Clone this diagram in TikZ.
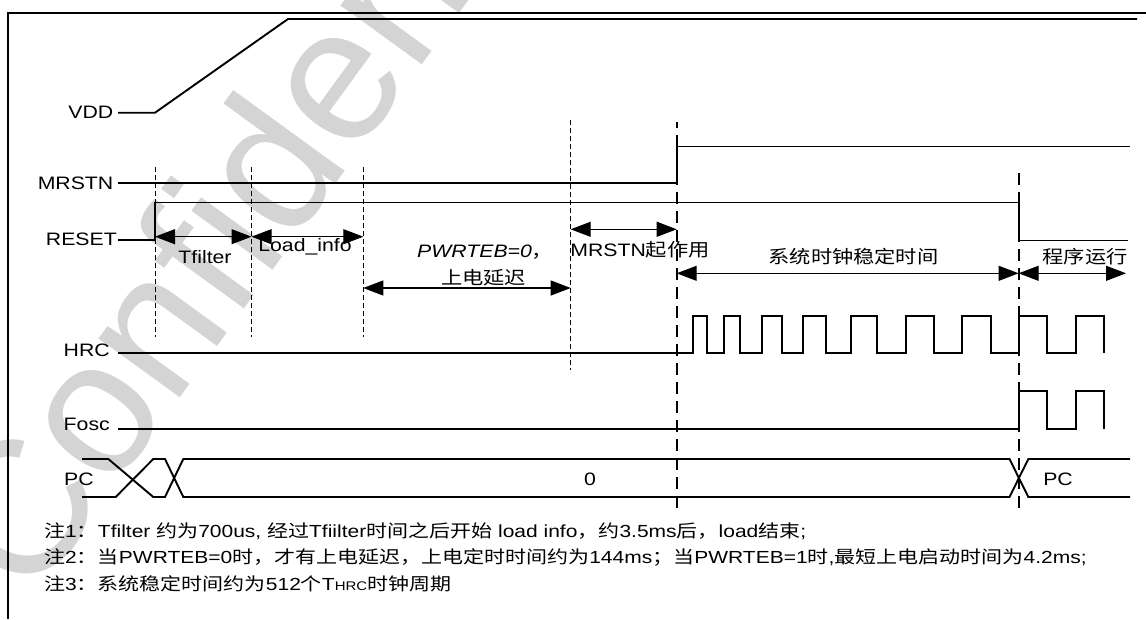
\documentclass[tikz,border=0pt]{standalone}
\usepackage{fontspec}
\setmainfont{Liberation Sans}
\newfontfamily\cjk{Noto Sans CJK SC}
\usetikzlibrary{arrows.meta}
\begin{document}
\begin{tikzpicture}[x=1pt,y=-1pt,
  sig/.style={line width=1.9pt, line join=miter},
  tdash/.style={line width=0.8pt, dash pattern=on 5pt off 3pt},
  bdash/.style={line width=1.9pt, dash pattern=on 12pt off 7pt},
  dim/.style={line width=1.1pt, {Triangle[length=20pt,width=15pt]}-{Triangle[length=20pt,width=15pt]}},
  lbl/.style={font=\fontsize{18}{20}\selectfont, xscale=1.18, inner sep=0pt},
  note/.style={font=\fontsize{17.5}{20}\selectfont, xscale=1.2, inner sep=0pt, anchor=base west},
  wm/.style={font=\fontsize{190}{190}\selectfont, text=black!17, rotate=54, inner sep=0pt}
]
\useasboundingbox (0,0) rectangle (1146,619);
% watermark
\node[wm, anchor=base west] (wmk) at (30,605) {Confidential};
% frame
\draw[line width=2pt] (7.5,619) -- (7.5,12.7) -- (1146,12.7);
% time marks
\coordinate (t0) at (155,0);
\coordinate (t1) at (251.5,0);
\coordinate (t2) at (363.3,0);
\coordinate (t3) at (570.7,0);
\coordinate (t4) at (676.7,0);
\coordinate (t5) at (1018.6,0);
% labels
\node[lbl, anchor=base east] (vdd) at (113.5,118.3) {VDD};
\node[lbl, anchor=base east] (mrstn) at (113.5,189.3) {MRSTN};
\node[lbl, anchor=base east] (reset) at (117,245) {RESET};
\node[lbl, anchor=base east] (hrc) at (110,356.7) {HRC};
\node[lbl, anchor=base east] (fosc) at (110,430) {Fosc};
\node[lbl, anchor=base] (pcl) at (79,485) {PC};
\node[lbl, anchor=base] (zero) at (590,485) {0};
\node[lbl, anchor=base] (pcr) at (1058,485) {PC};
% waveforms
\draw[sig] (118,112.7) -- (155,112.7) -- (288,19) -- (1137,19);
\draw[sig] (118,183) -- (676.7,183) -- (676.7,146.5) -- (1130,146.5);
\draw[sig] (118,240) -- (155,240) -- (155,202.5) -- (1018.6,202.5) -- (1018.6,240.5) -- (1128,240.5);
\def\L{353.3}\def\H{316.3}
\draw[sig] (118,\L) -| (693.3,\H) -| (706.7,\L) -| (724,\H) -| (740.3,\L) -| (761.7,\H) -| (782,\L)
  -| (803.3,\H) -| (825.7,\L) -| (851.3,\H) -| (877.3,\L) -| (905.8,\H) -| (934,\L) -| (962.3,\H)
  -| (990.7,\L) -| (1018.8,\H) -| (1047,\L) -| (1075.7,\H) -| (1104,\L);
\def\L{429.3}\def\H{391.3}
\draw[sig] (118,\L) -| (1018.8,\H) -| (1047,\L) -| (1075.7,\H) -| (1104,\L);
\def\T{459}\def\B{497}
\draw[sig] (82,\T) -- (108.3,\T) -- (153.3,\B) -- (165,\B) -- (183.3,\T) -- (1009.5,\T) -- (1028.3,\B) -- (1130,\B);
\draw[sig] (82,\B) -- (115.7,\B) -- (153.3,\T) -- (165,\T) -- (183.3,\B) -- (1009.5,\B) -- (1028.3,\T) -- (1130,\T);
% dashed markers
\draw[tdash] (t0 |- 0,167) -- (t0 |- 0,337);
\draw[tdash] (t1 |- 0,167) -- (t1 |- 0,337);
\draw[tdash] (t2 |- 0,167) -- (t2 |- 0,337);
\draw[tdash] (t3 |- 0,120) -- (t3 |- 0,370);
\draw[bdash] (t4 |- 0,508) -- (t4 |- 0,122);
\draw[bdash] (t5 |- 0,508) -- (t5 |- 0,172);
% dimension arrows
\draw[dim] (t0 |- 0,236.7) -- (t1 |- 0,236.7);
\draw[dim] (t1 |- 0,236.7) -- (t2 |- 0,236.7);
\draw[dim] (t2 |- 0,288) -- (t3 |- 0,288);
\draw[dim] (t3 |- 0,229.3) -- (t4 |- 0,229.3);
\draw[dim] (t4 |- 0,273.3) -- (t5 |- 0,273.3);
\draw[dim] (t5 |- 0,273.3) -- (1126,273.3);
% dimension labels
\node[lbl, anchor=base] (tf) at (205,263) {Tfilter};
\node[lbl, anchor=base] (li) at (305,251) {Load\_info};
\node[lbl, anchor=base west] (pw) at (417,257) {\itshape PWRTEB=0{\cjk ，}};
\node[lbl] (sd) at (483.5,278) {\cjk 上电延迟};
\node[lbl, anchor=base] (mr) at (640,256) {MRSTN{\cjk 起作用}};
\node[lbl] (xt) at (853.5,256.5) {\cjk 系统时钟稳定时间};
\node[lbl] (cx) at (1085,257) {\cjk 程序运行};
% notes
\node[note] (n1) at (44,537) {{\cjk 注}1{\cjk ：}Tfilter {\cjk 约为}700us, {\cjk 经过}Tfiilter{\cjk 时间之后开始} load info{\cjk ，约}3.5ms{\cjk 后，}load{\cjk 结束};};
\node[note] (n2) at (44,563) {{\cjk 注}2{\cjk ：当}PWRTEB=0{\cjk 时，才有上电延迟，上电定时时间约为}144ms{\cjk ；当}PWRTEB=1{\cjk 时},{\cjk 最短上电启动时间为}4.2ms;};
\node[note] (n3) at (44,590) {{\cjk 注}3{\cjk ：系统稳定时间约为}512{\cjk 个}T{\fontsize{12.5}{14}\selectfont HRC}{\cjk 时钟周期}};
\end{tikzpicture}
\end{document}
